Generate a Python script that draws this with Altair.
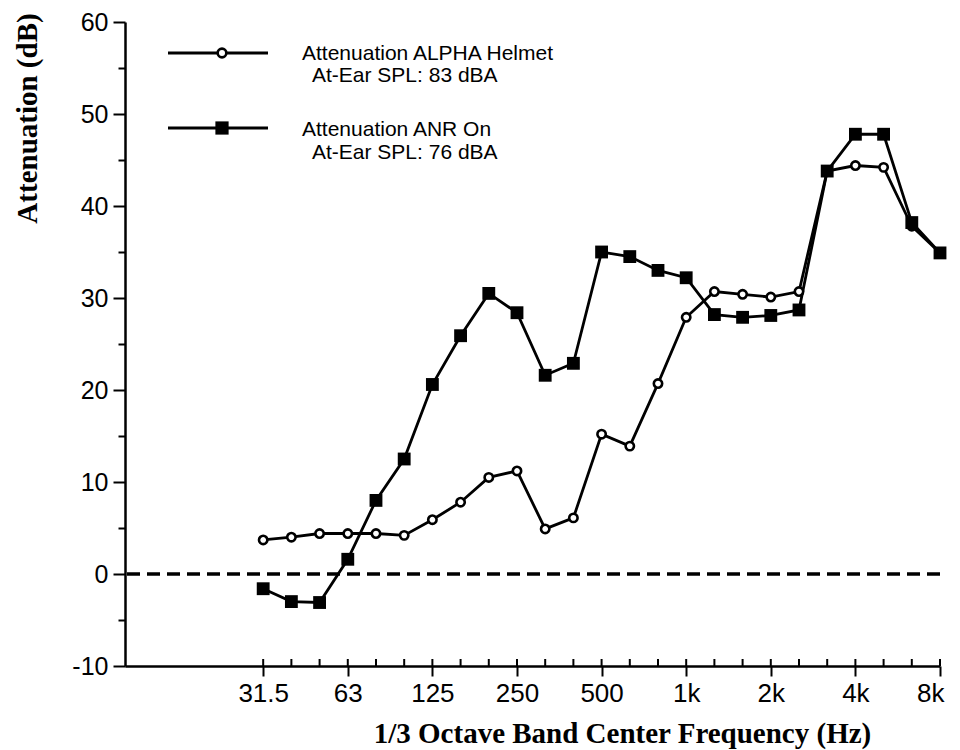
import altair as alt
import pandas as pd

# 1/3-octave band centres (Hz) and readings (dB)
bands = ["31.5", "40", "50", "63", "80", "100", "125", "160", "200", "250",
         "315", "400", "500", "630", "800", "1k", "1.25k", "1.6k", "2k", "2.5k",
         "3.15k", "4k", "5k", "6.3k", "8k"]
octave_ticks = ["31.5", "63", "125", "250", "500", "1k", "2k", "4k", "8k"]
helmet = [3.7, 4.0, 4.4, 4.4, 4.4, 4.2, 5.9, 7.8, 10.5, 11.2,
          4.9, 6.1, 15.2, 13.9, 20.7, 27.9, 30.7, 30.4, 30.1, 30.7,
          43.8, 44.4, 44.2, 37.8, 34.9]
anr = [-1.6, -3.0, -3.1, 1.6, 8.0, 12.5, 20.6, 25.9, 30.5, 28.4,
       21.6, 22.9, 35.0, 34.5, 33.0, 32.2, 28.2, 27.9, 28.1, 28.7,
       43.8, 47.8, 47.8, 38.2, 34.9]
y_ticks = list(range(-10, 61, 5))
reference_level = [0]

legend_lines = [
    "Attenuation ALPHA Helmet", "At-Ear SPL: 83 dBA",
    "Attenuation ANR On", "At-Ear SPL: 76 dBA",
]

W, H = 815, 644

idx = list(range(len(bands)))
major_idx = [i for i, b in enumerate(bands) if b in octave_ticks]
label_arr = "[" + ",".join("'" + (b if b in octave_ticks else "") + "'" for b in bands) + "]"

helmet_df = pd.DataFrame({"idx": idx, "value": helmet, "series": "helmet"})
anr_df = pd.DataFrame({"idx": idx, "value": anr, "series": "anr"})
long_df = pd.concat([helmet_df, anr_df], ignore_index=True)
zero_df = pd.DataFrame({"value": reference_level})
band_df = pd.DataFrame({"idx": idx})

x_enc = alt.X(
    "idx:Q",
    scale=alt.Scale(domain=[-4.9, 24], nice=False, zero=False),
    axis=alt.Axis(
        values=major_idx,
        labelExpr=label_arr + "[datum.value]",
        tickSize=10, tickWidth=2, domainWidth=2.5,
        labelFont="Liberation Sans", labelFontSize=26, labelPadding=4,
        labelColor="black", labelOverlap=False, labelFlush=True,
        labelFlushOffset=4,
        title="1/3 Octave Band Center Frequency (Hz)",
        titleFont="Liberation Serif", titleFontWeight="bold", titleFontSize=29,
        titleX=497, titleY=76, titleAlign="center", titleBaseline="alphabetic",
        titleColor="black",
    ),
)
y_enc = alt.Y(
    "value:Q",
    scale=alt.Scale(domain=[-10, 60], nice=False, zero=False),
    axis=alt.Axis(
        values=y_ticks,
        labelExpr="datum.value % 10 === 0 ? datum.value : ''",
        tickSize={"condition": {"test": "datum.value % 10 === 0", "value": 12}, "value": 7},
        tickWidth=2, domainWidth=2.5,
        labelFont="Liberation Sans", labelFontSize=25, labelPadding=5,
        labelColor="black",
        title="Attenuation (dB)",
        titleFont="Liberation Serif", titleFontWeight="bold", titleFontSize=29,
        titleAngle=270, titleX=-89, titleY=96, titleAlign="center",
        titleBaseline="alphabetic", titleColor="black",
    ),
)

zero_line = alt.Chart(zero_df).mark_rule(
    color="black", strokeWidth=3.5, strokeDash=[13, 7]
).encode(y=y_enc)

lines = alt.Chart(long_df).mark_line(color="black", strokeWidth=2.8).encode(
    x=x_enc, y=y_enc, detail="series:N"
)

circles = alt.Chart(helmet_df).mark_point(
    shape="circle", filled=True, fill="white", stroke="black",
    strokeWidth=2.6, size=70, opacity=1
).encode(x=x_enc, y=y_enc)

squares = alt.Chart(anr_df).mark_point(
    shape="square", filled=True, color="black", size=165, opacity=1
).encode(x=x_enc, y=y_enc)

inner_ticks = alt.Chart(band_df).mark_rule(color="black", strokeWidth=2).encode(
    x=x_enc, y=alt.value(H - 7), y2=alt.value(H)
)

# manual legend
leg_base = alt.Chart(pd.DataFrame({"k": [0]}))
leg_line1 = leg_base.mark_rule(color="black", strokeWidth=2.8).encode(
    x=alt.value(43), x2=alt.value(143), y=alt.value(31))
leg_line2 = leg_base.mark_rule(color="black", strokeWidth=2.8).encode(
    x=alt.value(43), x2=alt.value(143), y=alt.value(106))
leg_pt1 = leg_base.mark_point(
    shape="circle", filled=True, fill="white", stroke="black",
    strokeWidth=2.6, size=75, opacity=1
).encode(x=alt.value(97), y=alt.value(31))
leg_pt2 = leg_base.mark_point(
    shape="square", filled=True, color="black", size=175, opacity=1
).encode(x=alt.value(97), y=alt.value(106))

def leg_text(txt, x, y):
    return leg_base.mark_text(
        text=txt, font="Liberation Sans", fontSize=21, color="black",
        align="left", baseline="middle"
    ).encode(x=alt.value(x), y=alt.value(y))

texts = [
    leg_text(legend_lines[0], 177, 32),
    leg_text(legend_lines[1], 187, 54),
    leg_text(legend_lines[2], 177, 108),
    leg_text(legend_lines[3], 187, 131),
]

chart = alt.layer(
    zero_line, lines, circles, squares, inner_ticks,
    leg_line1, leg_line2, leg_pt1, leg_pt2, *texts
).properties(
    width=W, height=H,
    autosize=alt.AutoSizeParams(type="none"),
    padding={"left": 125, "top": 22, "right": 20, "bottom": 84},
    background="white",
).configure_view(strokeWidth=0).configure_axis(
    grid=False, domainColor="black", tickColor="black"
)

chart.save("out.html", embed_options={"renderer": "svg", "actions": False})
